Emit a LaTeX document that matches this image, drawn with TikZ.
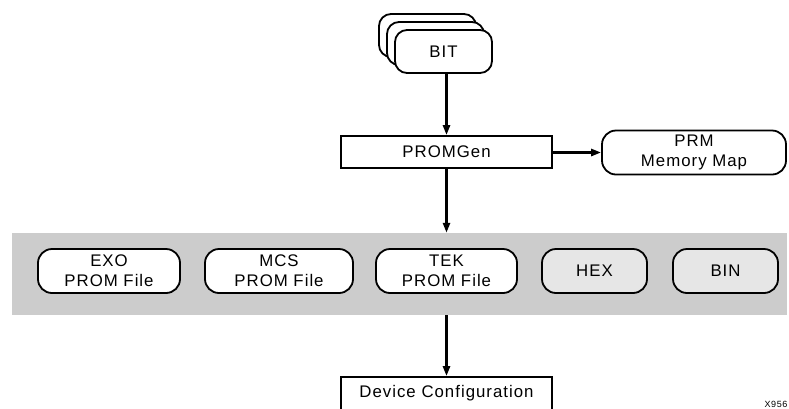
\documentclass[tikz,border=0pt]{standalone}
\usepackage{fontspec}
\setmainfont{Liberation Sans}[LetterSpace=6]
\usetikzlibrary{arrows.meta}
\definecolor{band}{HTML}{CCCCCC}
\definecolor{lite}{HTML}{E6E6E6}
\begin{document}
\begin{tikzpicture}[x=1pt,y=-1pt,
  txt/.style={font=\fontsize{16.8}{20}\selectfont, align=center, inner sep=0pt},
  sqbox/.style={txt, draw, line width=1.8pt, fill=white},
  rbox/.style={sqbox, rounded corners=14pt, minimum height=44pt},
  bitbox/.style={sqbox, rounded corners=12pt, minimum width=97pt, minimum height=43pt},
  arr/.style={-{Triangle[length=10pt,width=7pt]}, line width=2.6pt}]
\useasboundingbox (0,0) rectangle (789,408);
% BIT stack
\node[bitbox] (bit1) at (427.5,35.5) {};
\node[bitbox] (bit2) at (435.5,43.5) {};
\node[bitbox] (bit3) at (443.5,51.5) {BIT};
% PROMGen
\node[sqbox, minimum width=211pt, minimum height=32pt] (prom) at (446.5,152) {PROMGen};
\node[rbox, minimum width=184pt] (prm) at (694,152.5) {PRM\\Memory Map};
% band
\node[fill=band, inner sep=0pt, minimum width=775pt, minimum height=82pt] (bandbg) at (399.5,274) {};
\node[rbox, minimum width=142pt] (exo) at (109,271) {EXO\\PROM File};
\node[rbox, minimum width=148pt] (mcs) at (279,271) {MCS\\PROM File};
\node[rbox, minimum width=141pt] (tek) at (446.5,271) {TEK\\PROM File};
\node[rbox, minimum width=105pt, fill=lite] (hex) at (594.5,271) {HEX};
\node[rbox, minimum width=105pt, fill=lite] (bin) at (725.5,271) {BIN};
% device
\node[sqbox, minimum width=211pt, minimum height=33pt] (dev) at (446.5,393.5) {Device Configuration};
\node[font=\fontsize{9}{10}\selectfont, inner sep=0pt] (tag) at (776,404) {X956};
% connectors
\draw[arr] (prom.north |- bit3.south) -- (prom.north);
\draw[arr] (prom.east |- prm.west) -- (prm.west);
\draw[arr] (prom.south) -- (prom.south |- bandbg.north);
\draw[arr] (dev.north |- bandbg.south) -- (dev.north);
\end{tikzpicture}
\end{document}
